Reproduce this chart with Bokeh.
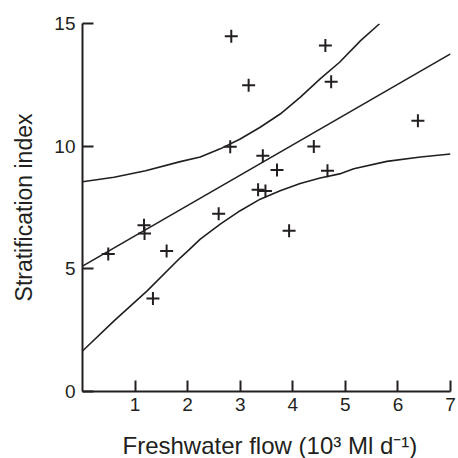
from bokeh.plotting import figure
from bokeh.models import Range1d, FixedTicker, Title
from bokeh.embed import file_html
from bokeh.resources import INLINE

# Data
flow = [0.49, 1.17, 1.18, 1.34, 1.60, 2.59, 2.81, 2.83, 3.16, 3.34, 3.43, 3.48,
        3.70, 3.93, 4.40, 4.62, 4.66, 4.73, 6.38]
strat = [5.60, 6.78, 6.44, 3.79, 5.73, 7.25, 9.98, 14.48, 12.48, 8.22, 9.61, 8.17,
         9.03, 6.55, 9.99, 14.10, 9.00, 12.63, 11.04]

fit_x = [0.0, 7.0]
fit_y = [5.11, 13.76]

upper_x = [0.0, 0.6, 1.2, 1.86, 2.24, 2.62, 3.00, 3.38, 3.76, 4.14, 4.52, 4.89, 5.29, 5.65]
upper_y = [8.55, 8.73, 9.0, 9.37, 9.56, 9.89, 10.29, 10.77, 11.31, 11.99, 12.74, 13.42, 14.3, 14.99]

lower_x = [0.0, 0.6, 1.23, 1.86, 2.02, 2.24, 2.62, 3.00, 3.38, 3.76, 4.14, 4.52, 4.89,
           5.16, 5.79, 6.43, 7.0]
lower_y = [1.65, 2.88, 4.10, 5.45, 5.76, 6.21, 6.82, 7.37, 7.84, 8.18, 8.48, 8.70, 8.87,
           9.08, 9.38, 9.56, 9.68]

x_ticks = [1, 2, 3, 4, 5, 6, 7]
y_ticks = [0, 5, 10, 15]
x_title = "Freshwater flow (10\u00b3 Ml d\u207b\u00b9)"
y_title = "Stratification index"

INK = "#231f20"
FONT = "Liberation Sans"

p = figure(width=458, height=458, output_backend="svg", toolbar_location=None,
           x_range=Range1d(0, 7), y_range=Range1d(0, 15),
           min_border_left=82, min_border_right=8, min_border_top=23, min_border_bottom=0)
p.outline_line_color = None
p.grid.visible = False
p.background_fill_color = "white"
p.border_fill_color = "white"

for ax in (p.xaxis[0], p.yaxis[0]):
    ax.axis_line_width = 2
    ax.axis_line_color = INK
    ax.major_tick_line_width = 2
    ax.major_tick_line_color = INK
    ax.major_tick_in = 11
    ax.major_tick_out = 0
    ax.minor_tick_line_color = None
    ax.major_label_text_font = FONT
    ax.major_label_text_font_size = "19px"
    ax.major_label_text_color = INK
    ax.axis_label_text_font = FONT
    ax.axis_label_text_font_size = "23px"
    ax.axis_label_text_font_style = "normal"
    ax.axis_label_text_color = INK

p.xaxis.ticker = FixedTicker(ticks=x_ticks)
p.yaxis.ticker = FixedTicker(ticks=y_ticks)
p.xaxis.major_label_standoff = 6
p.yaxis.major_label_standoff = 7
p.yaxis.axis_label = y_title
p.yaxis.axis_label_standoff = 14
# tiny invisible spacer label to push the title down
p.xaxis.axis_label = " "
p.xaxis.axis_label_text_font_size = "1px"
p.xaxis.axis_label_standoff = 12

p.add_layout(Title(text=x_title, align="left", offset=40, standoff=0,
                   text_font=FONT, text_font_size="24px", text_font_style="normal",
                   text_color=INK), "below")

p.line(fit_x, fit_y, line_color=INK, line_width=1.6)
p.line(upper_x, upper_y, line_color=INK, line_width=1.6)
p.line(lower_x, lower_y, line_color=INK, line_width=1.6)
p.scatter(flow, strat, marker="cross", size=13, line_color=INK, line_width=2)

open("out.html", "w").write(file_html(p, INLINE))
